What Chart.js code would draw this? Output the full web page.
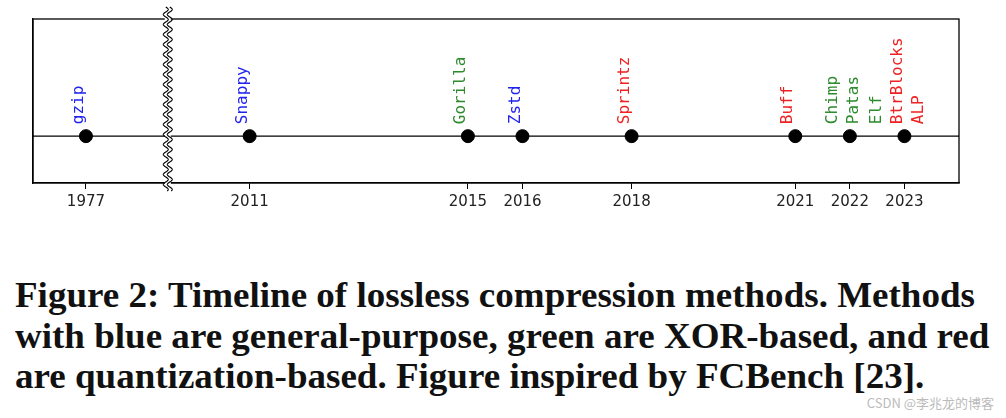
<!DOCTYPE html>
<html><head><meta charset="utf-8">
<script src="https://cdn.jsdelivr.net/npm/chart.js@4"></script>
<style>
body{margin:0;background:#fff;width:1006px;height:418px;position:relative;overflow:hidden}
#wrap{position:absolute;left:0;top:0;width:1006px;height:230px}
#cap{position:absolute;left:15px;top:275px;font:bold 35.5px "Liberation Serif","DejaVu Serif",serif;line-height:40.5px;color:#111;white-space:nowrap;transform:scaleX(1.043);transform-origin:0 0}
#wm{position:absolute;right:12px;bottom:6px;font:13px "Noto Sans CJK SC",sans-serif;color:#bbb}
</style></head><body>
<div id="wrap"><canvas id="c"></canvas></div>
<div id="cap">Figure 2: Timeline of lossless compression methods. Methods<br>with blue are general-purpose, green are XOR-based, and red<br>are quantization-based. Figure inspired by FCBench [23].</div>
<div id="wm">CSDN @李兆龙的博客</div>
<script>
// --- DATA ---
const years = [1977, 2011, 2015, 2016, 2018, 2021, 2022, 2023];
// 1977 sits left of the axis break, drawn at 2008 on the compressed scale
const axisPos = [2008, 2011, 2015, 2016, 2018, 2021, 2022, 2023];
const methods = [['gzip'], ['Snappy'], ['Gorilla'], ['Zstd'], ['Sprintz'], ['Buff'], ['Chimp', 'Patas'], ['Elf', 'BtrBlocks', 'ALP']];
const kinds = [['g'], ['g'], ['x'], ['g'], ['q'], ['q'], ['x', 'x'], ['x', 'q', 'q']];
const BREAK_AT = 2009.5;

const kindColor = { g: '#2222ee', x: '#2e8b2e', q: '#ee2222' };

const labelPlugin = {
  id: 'labels',
  afterDatasetsDraw(chart) {
    const ctx = chart.ctx, xs = chart.scales.x, ys = chart.scales.y;
    ctx.save();
    ctx.font = '16px "DejaVu Sans Mono", monospace';
    ctx.textAlign = 'left';
    ctx.textBaseline = 'middle';
    axisPos.forEach((p, i) => {
      const n = methods[i].length;
      methods[i].forEach((m, j) => {
        const x = xs.getPixelForValue(p) + (j - (n - 1) / 2) * 21 - 7;
        const y = ys.getPixelForValue(0) - 12;
        ctx.save();
        ctx.translate(x, y);
        ctx.rotate(-Math.PI / 2);
        ctx.fillStyle = kindColor[kinds[i][j]];
        ctx.fillText(m, 0, 0);
        ctx.restore();
      });
    });
    // axis break squiggle
    const bx = xs.getPixelForValue(BREAK_AT);
    const top = chart.chartArea.top - 12, bot = chart.chartArea.bottom + 8;
    ctx.fillStyle = '#fff';
    ctx.fillRect(bx - 3, top, 6, bot - top);
    ctx.strokeStyle = '#000';
    ctx.lineWidth = 1.1;
    [-2, 2].forEach(dx => {
      ctx.beginPath();
      for (let y = top; y <= bot; y += 0.5) {
        const xx = bx + dx + 2.5 * Math.sin((y - top) / 10 * 2 * Math.PI);
        y === top ? ctx.moveTo(xx, y) : ctx.lineTo(xx, y);
      }
      ctx.stroke();
    });
    ctx.restore();
  }
};

new Chart(document.getElementById('c'), {
  type: 'scatter',
  data: {
    datasets: [{
      data: axisPos.map(p => ({ x: p, y: 0 })),
      backgroundColor: '#000', borderColor: '#000', pointRadius: 6.5, pointHoverRadius: 6.5
    }]
  },
  options: {
    responsive: true, maintainAspectRatio: false, animation: false,
    layout: { padding: { left: 33, right: 47, top: 19, bottom: 15 } },
    plugins: { legend: { display: false }, tooltip: { enabled: false } },
    scales: {
      x: {
        type: 'linear', min: 2007.03, max: 2024,
        afterBuildTicks(s) { s.ticks = axisPos.map(v => ({ value: v })); },
        ticks: {
          autoSkip: false, maxRotation: 0, color: '#222', padding: 4,
          font: { family: 'DejaVu Sans', size: 15 },
          callback: (v) => years[axisPos.indexOf(v)]
        },
        grid: { drawOnChartArea: false, color: '#000', tickLength: 6 },
        border: { color: '#000', width: 1.3 }
      },
      y: {
        min: -1, max: 2.5, ticks: { display: false },
        grid: { display: false, drawTicks: false },
        border: { color: '#000', width: 1.3 }
      }
    }
  },
  plugins: [{
    id: 'frame',
    beforeDatasetsDraw(chart) {
      const { ctx, chartArea: a } = chart, y = chart.scales.y.getPixelForValue(0);
      ctx.save();
      ctx.strokeStyle = '#000'; ctx.lineWidth = 1.3;
      ctx.strokeRect(a.left, a.top, a.right - a.left, a.bottom - a.top);
      ctx.lineWidth = 1.2;
      ctx.beginPath(); ctx.moveTo(a.left, y); ctx.lineTo(a.right, y); ctx.stroke();
      ctx.restore();
    }
  }, labelPlugin]
});
</script>
</body></html>
